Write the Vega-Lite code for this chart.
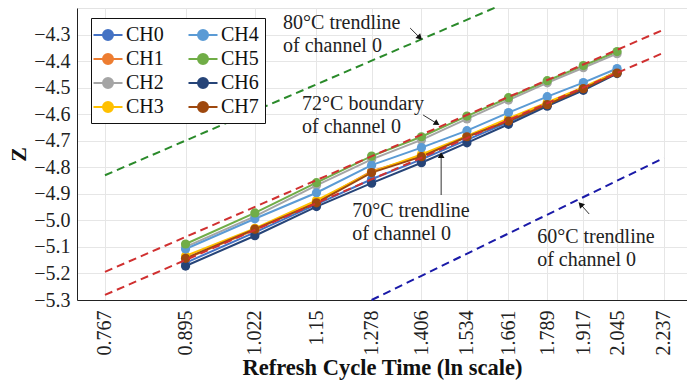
{
  "$schema": "https://vega.github.io/schema/vega-lite/v6.json",
  "autosize": "none",
  "padding": {"left": 77, "top": 8, "right": 0, "bottom": 82},
  "width": 610,
  "height": 292,
  "config": {
    "font": "Liberation Serif",
    "view": {"stroke": "#e3e3e3"},
    "axis": {"gridColor": "#e6e6e6", "domainColor": "#222", "labelColor": "#222", "titleColor": "#111", "labelFont": "Liberation Serif", "titleFont": "Liberation Serif", "labelOverlap": false}
  },
  "datasets": {
    "series": [
      {"ch":"CH0","x":0.895,"z":-5.160},{"ch":"CH0","x":1.022,"z":-5.045},{"ch":"CH0","x":1.15,"z":-4.940},{"ch":"CH0","x":1.278,"z":-4.845},{"ch":"CH0","x":1.406,"z":-4.770},{"ch":"CH0","x":1.534,"z":-4.697},{"ch":"CH0","x":1.661,"z":-4.630},{"ch":"CH0","x":1.789,"z":-4.565},{"ch":"CH0","x":1.917,"z":-4.505},{"ch":"CH0","x":2.045,"z":-4.438},
      {"ch":"CH1","x":0.895,"z":-5.145},{"ch":"CH1","x":1.022,"z":-5.036},{"ch":"CH1","x":1.15,"z":-4.930},{"ch":"CH1","x":1.278,"z":-4.815},{"ch":"CH1","x":1.406,"z":-4.758},{"ch":"CH1","x":1.534,"z":-4.684},{"ch":"CH1","x":1.661,"z":-4.622},{"ch":"CH1","x":1.789,"z":-4.560},{"ch":"CH1","x":1.917,"z":-4.502},{"ch":"CH1","x":2.045,"z":-4.443},
      {"ch":"CH2","x":0.895,"z":-5.100},{"ch":"CH2","x":1.022,"z":-4.985},{"ch":"CH2","x":1.15,"z":-4.868},{"ch":"CH2","x":1.278,"z":-4.770},{"ch":"CH2","x":1.406,"z":-4.697},{"ch":"CH2","x":1.534,"z":-4.618},{"ch":"CH2","x":1.661,"z":-4.547},{"ch":"CH2","x":1.789,"z":-4.482},{"ch":"CH2","x":1.917,"z":-4.425},{"ch":"CH2","x":2.045,"z":-4.372},
      {"ch":"CH3","x":0.895,"z":-5.134},{"ch":"CH3","x":1.022,"z":-5.030},{"ch":"CH3","x":1.15,"z":-4.925},{"ch":"CH3","x":1.278,"z":-4.818},{"ch":"CH3","x":1.406,"z":-4.752},{"ch":"CH3","x":1.534,"z":-4.682},{"ch":"CH3","x":1.661,"z":-4.616},{"ch":"CH3","x":1.789,"z":-4.556},{"ch":"CH3","x":1.917,"z":-4.498},{"ch":"CH3","x":2.045,"z":-4.440},
      {"ch":"CH4","x":0.895,"z":-5.108},{"ch":"CH4","x":1.022,"z":-4.994},{"ch":"CH4","x":1.15,"z":-4.896},{"ch":"CH4","x":1.278,"z":-4.792},{"ch":"CH4","x":1.406,"z":-4.726},{"ch":"CH4","x":1.534,"z":-4.662},{"ch":"CH4","x":1.661,"z":-4.594},{"ch":"CH4","x":1.789,"z":-4.534},{"ch":"CH4","x":1.917,"z":-4.481},{"ch":"CH4","x":2.045,"z":-4.428},
      {"ch":"CH5","x":0.895,"z":-5.089},{"ch":"CH5","x":1.022,"z":-4.972},{"ch":"CH5","x":1.15,"z":-4.858},{"ch":"CH5","x":1.278,"z":-4.758},{"ch":"CH5","x":1.406,"z":-4.685},{"ch":"CH5","x":1.534,"z":-4.607},{"ch":"CH5","x":1.661,"z":-4.538},{"ch":"CH5","x":1.789,"z":-4.474},{"ch":"CH5","x":1.917,"z":-4.417},{"ch":"CH5","x":2.045,"z":-4.364},
      {"ch":"CH6","x":0.895,"z":-5.172},{"ch":"CH6","x":1.022,"z":-5.058},{"ch":"CH6","x":1.15,"z":-4.948},{"ch":"CH6","x":1.278,"z":-4.860},{"ch":"CH6","x":1.406,"z":-4.783},{"ch":"CH6","x":1.534,"z":-4.708},{"ch":"CH6","x":1.661,"z":-4.638},{"ch":"CH6","x":1.789,"z":-4.570},{"ch":"CH6","x":1.917,"z":-4.510},{"ch":"CH6","x":2.045,"z":-4.447},
      {"ch":"CH7","x":0.895,"z":-5.143},{"ch":"CH7","x":1.022,"z":-5.033},{"ch":"CH7","x":1.15,"z":-4.934},{"ch":"CH7","x":1.278,"z":-4.820},{"ch":"CH7","x":1.406,"z":-4.760},{"ch":"CH7","x":1.534,"z":-4.685},{"ch":"CH7","x":1.661,"z":-4.626},{"ch":"CH7","x":1.789,"z":-4.564},{"ch":"CH7","x":1.917,"z":-4.504},{"ch":"CH7","x":2.045,"z":-4.445}
    ],
    "t80": [{"x":0.767,"z":-4.83},{"x":1.626,"z":-4.195}],
    "t72": [{"x":0.767,"z":-5.194},{"x":2.237,"z":-4.281}],
    "t70": [{"x":0.767,"z":-5.281},{"x":2.237,"z":-4.368}],
    "t60": [{"x":1.278,"z":-5.30},{"x":2.237,"z":-4.765}],
    "notes": [
      {"x":1.0787,"z":-4.2793,"label":["80°C trendline","of channel 0"]},
      {"x":1.1187,"z":-4.5844,"label":["72°C boundary","of channel 0"]},
      {"x":1.2313,"z":-4.9874,"label":["70°C trendline","of channel 0"]},
      {"x":1.7549,"z":-5.0853,"label":["60°C trendline","of channel 0"]}
    ],
    "shafts": [
      {"x":1.3759,"z":-4.2755,"x2":1.3999,"z2":-4.3094},
      {"x":1.4106,"z":-4.6032,"x2":1.4462,"z2":-4.6333},
      {"x":1.4601,"z":-4.9045,"x2":1.4601,"z2":-4.7576},
      {"x":1.9387,"z":-4.9761,"x2":1.9093,"z2":-4.9422}
    ]
  },
  "layer": [
    {
      "data": {"name": "series"},
      "mark": {"type": "line", "strokeWidth": 2},
      "encoding": {
        "x": {"field": "x", "type": "quantitative", "scale": {"type": "log", "domain": [0.727, 2.338], "nice": false, "zero": false},
          "axis": {"values": [0.767,0.895,1.022,1.15,1.278,1.406,1.534,1.661,1.789,1.917,2.045,2.237], "tickCount": 30, "format": ".4~g", "labelAngle": -90, "labelFontSize": 20, "labelPadding": 10, "labelOverlap": false, "labelFlush": false, "ticks": false, "title": "Refresh Cycle Time (ln scale)", "titleFontSize": 22.5, "titleFontWeight": "bold", "titlePadding": 1}},
        "y": {"field": "z", "type": "quantitative", "scale": {"domain": [-5.3, -4.2], "nice": false, "zero": false},
          "axis": {"values": [-5.3,-5.2,-5.1,-5.0,-4.9,-4.8,-4.7,-4.6,-4.5,-4.4,-4.3], "tickCount": 30, "format": ".1f", "labelFontSize": 20, "labelPadding": 7, "labelOverlap": false, "labelFlush": false, "ticks": false, "title": "Z", "titleFontSize": 22, "titleFontWeight": "bold", "titlePadding": 3}},
        "color": {"field": "ch", "type": "nominal",
          "scale": {"domain": ["CH0","CH1","CH2","CH3","CH4","CH5","CH6","CH7"], "range": ["#4472C4","#ED7D31","#A5A5A5","#FFC000","#5B9BD5","#70AD47","#264478","#9E480E"]},
          "legend": {"orient": "none", "legendX": 14, "legendY": 10, "columns": 2, "title": null, "labelFontSize": 20, "labelFont": "Liberation Serif", "labelColor": "#111", "labelOffset": 7, "symbolType": "M-1.45,0H1.45M-0.5,0A0.5,0.5 0 1,0 0.5,0A0.5,0.5 0 1,0 -0.5,0", "symbolSize": 400, "symbolStrokeWidth": 2, "strokeColor": "#111", "fillColor": "white", "padding": 6, "rowPadding": 3, "columnPadding": 20}}
      }
    },
    {
      "data": {"name": "series"},
      "mark": {"type": "point", "filled": true, "size": 85, "opacity": 1},
      "encoding": {
        "x": {"field": "x", "type": "quantitative"},
        "y": {"field": "z", "type": "quantitative"},
        "color": {"field": "ch", "type": "nominal"}
      }
    },
    {
      "data": {"name": "t80"},
      "mark": {"type": "line", "color": "#2a8a2a", "strokeWidth": 2, "strokeDash": [8, 5]},
      "encoding": {"x": {"field": "x", "type": "quantitative"}, "y": {"field": "z", "type": "quantitative"}}
    },
    {
      "data": {"name": "t72"},
      "mark": {"type": "line", "color": "#d03030", "strokeWidth": 2, "strokeDash": [8, 5]},
      "encoding": {"x": {"field": "x", "type": "quantitative"}, "y": {"field": "z", "type": "quantitative"}}
    },
    {
      "data": {"name": "t70"},
      "mark": {"type": "line", "color": "#d03030", "strokeWidth": 2, "strokeDash": [8, 5]},
      "encoding": {"x": {"field": "x", "type": "quantitative"}, "y": {"field": "z", "type": "quantitative"}}
    },
    {
      "data": {"name": "t60"},
      "mark": {"type": "line", "color": "#1a1aa8", "strokeWidth": 2, "strokeDash": [8, 5]},
      "encoding": {"x": {"field": "x", "type": "quantitative"}, "y": {"field": "z", "type": "quantitative"}}
    },
    {
      "data": {"name": "notes"},
      "mark": {"type": "text", "align": "left", "baseline": "alphabetic", "fontSize": 20, "lineHeight": 23, "color": "#222", "font": "Liberation Serif"},
      "encoding": {"x": {"field": "x", "type": "quantitative"}, "y": {"field": "z", "type": "quantitative"}, "text": {"field": "label"}}
    },
    {
      "data": {"name": "shafts"},
      "mark": {"type": "rule", "color": "#333", "strokeWidth": 1},
      "encoding": {"x": {"field": "x", "type": "quantitative"}, "y": {"field": "z", "type": "quantitative"}, "x2": {"field": "x2"}, "y2": {"field": "z2"}}
    },
    {
      "data": {"values": [{"x": 1.3999, "z": -4.3094}]},
      "mark": {"type": "point", "shape": "triangle", "angle": 135, "filled": true, "color": "#111", "size": 45, "opacity": 1},
      "encoding": {"x": {"field": "x", "type": "quantitative"}, "y": {"field": "z", "type": "quantitative"}}
    },
    {
      "data": {"values": [{"x": 1.4462, "z": -4.6333}]},
      "mark": {"type": "point", "shape": "triangle", "angle": 122, "filled": true, "color": "#111", "size": 45, "opacity": 1},
      "encoding": {"x": {"field": "x", "type": "quantitative"}, "y": {"field": "z", "type": "quantitative"}}
    },
    {
      "data": {"values": [{"x": 1.4601, "z": -4.7576}]},
      "mark": {"type": "point", "shape": "triangle", "angle": 0, "filled": true, "color": "#111", "size": 45, "opacity": 1},
      "encoding": {"x": {"field": "x", "type": "quantitative"}, "y": {"field": "z", "type": "quantitative"}}
    },
    {
      "data": {"values": [{"x": 1.9093, "z": -4.9422}]},
      "mark": {"type": "point", "shape": "triangle", "angle": 317, "filled": true, "color": "#111", "size": 45, "opacity": 1},
      "encoding": {"x": {"field": "x", "type": "quantitative"}, "y": {"field": "z", "type": "quantitative"}}
    }
  ]
}
